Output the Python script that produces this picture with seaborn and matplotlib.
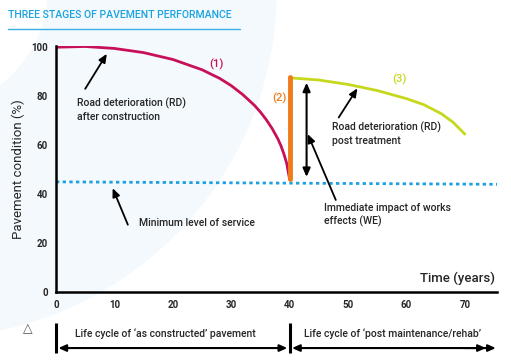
import numpy as np
import pandas as pd
import matplotlib
matplotlib.use("Agg")
import matplotlib.pyplot as plt
import seaborn as sns
from matplotlib.patches import Wedge
from matplotlib.transforms import Affine2D

# ---- data ----
rd1_years = [0, 5, 10, 15, 20, 25, 28, 30, 32, 34, 35, 36, 37, 38, 38.5, 39, 39.5, 40]
rd1_cond = [100, 100.3, 99.5, 97.8, 95, 90.8, 87.3, 84.3, 80.6, 76.2, 73.5, 70.4, 66.8, 62.5, 59.8, 56.5, 52.5, 46]
rd3_years = [40, 45, 50, 55, 60, 63, 66, 68, 70]
rd3_cond = [87.5, 86.6, 84.8, 82.3, 79, 76.5, 72.8, 69.3, 64.5]
we_years = [40, 40]
we_cond = [46, 88]
min_years = [0, 75.5]
min_cond = [45, 44]
x_ticks = [0, 10, 20, 30, 40, 50, 60, 70]
y_ticks = [0, 20, 40, 60, 80, 100]

C_RED = "#c8105a"
C_ORANGE = "#f07a1c"
C_GREEN = "#c5d81c"
C_BLUE = "#1ea1e0"

sns.set_style("white")
plt.rcParams["font.family"] = ["Roboto", "DejaVu Sans"]
plt.rcParams["font.weight"] = "medium"

fig = plt.figure(figsize=(5.11, 3.64), dpi=100)
fig.patch.set_facecolor("white")

# pale background crescent (pixel coords, y down)
bg = Wedge((-72, -11), 349, 0, 360, width=229, facecolor="#f4f9fd", edgecolor="none",
           transform=Affine2D().scale(1, -1).translate(0, 364), zorder=0)
fig.add_artist(bg)

ax = fig.add_axes([56 / 511, 1 - 292 / 364, (497 - 56) / 511, (292 - 46) / 364])
ax.patch.set_alpha(0)

df1 = pd.DataFrame({"t": rd1_years, "c": rd1_cond})
df3 = pd.DataFrame({"t": rd3_years, "c": rd3_cond})
dfw = pd.DataFrame({"t": we_years, "c": we_cond})
dfm = pd.DataFrame({"t": min_years, "c": min_cond})

kw = dict(estimator=None, sort=False)
sns.lineplot(data=dfm, x="t", y="c", ax=ax, color=C_BLUE, lw=2, linestyle=(0, (1.2, 1.2)), **kw)
sns.lineplot(data=df1, x="t", y="c", ax=ax, color=C_RED, lw=2, **kw)
sns.lineplot(data=df3, x="t", y="c", ax=ax, color=C_GREEN, lw=2, **kw)
sns.lineplot(data=dfw, x="t", y="c", ax=ax, color=C_ORANGE, lw=3.5, **kw)

ax.set_xlim(0, 75.5)
ax.set_ylim(0, 100.5)
ax.set_xticks(x_ticks)
ax.set_yticks(y_ticks)
ax.tick_params(axis="both", labelsize=7, width=2.2, length=4, direction="out", color="black", pad=2)
for lab in ax.get_xticklabels() + ax.get_yticklabels():
    lab.set_fontweight("bold")
for s in ["top", "right"]:
    ax.spines[s].set_visible(False)
for s in ["left", "bottom"]:
    ax.spines[s].set_linewidth(1.8)
    ax.spines[s].set_color("black")
ax.set_xlabel("")
ax.set_ylabel("Pavement condition (%)", fontsize=9.5, labelpad=4)
ax.text(75.2, 3, "Time (years)", ha="right", va="bottom", fontsize=9.5, fontweight="medium")

# labels
ax.text(27.5, 93, "(1)", color=C_RED, fontsize=8, ha="center", va="center")
ax.text(38.2, 79, "(2)", color=C_ORANGE, fontsize=8, ha="center", va="center")
ax.text(58.8, 86.7, "(3)", color=C_GREEN, fontsize=8, ha="center", va="center")

ap = dict(arrowstyle="-|>,head_length=0.5,head_width=0.22", color="black", lw=1.3, shrinkA=0, shrinkB=0)
ax.annotate("", xy=(8.7, 97.3), xytext=(5, 83), arrowprops=ap)
ax.text(3.6, 79.5, "Road deterioration (RD)\nafter construction", fontsize=7.5, va="top", ha="left",
        linespacing=1.35)
ax.annotate("", xy=(51.6, 83.2), xytext=(48.4, 71.3), arrowprops=ap)
ax.text(47.2, 69.5, "Road deterioration (RD)\npost treatment", fontsize=7.5, va="top", ha="left",
        linespacing=1.35)
ax.annotate("", xy=(43.1, 64.5), xytext=(47.9, 37.6), arrowprops=ap)
ax.text(45.8, 36.5, "Immediate impact of works\neffects (WE)", fontsize=7.5, va="top", ha="left",
        linespacing=1.35)
ax.annotate("", xy=(9.7, 42.4), xytext=(12.3, 27.5), arrowprops=ap)
ax.text(14.2, 28.2, "Minimum level of service", fontsize=7.5, va="center", ha="left")

ap2 = dict(arrowstyle="<|-|>,head_length=0.5,head_width=0.22", color="black", lw=1.5, shrinkA=0, shrinkB=0)
ax.annotate("", xy=(42.9, 85.5), xytext=(42.9, 47), arrowprops=ap2)

# life cycle brackets below axis
for xv in [0, 40]:
    ax.plot([xv, xv], [-12.7, -25], color="black", lw=2.2, clip_on=False, solid_capstyle="butt")
ap3 = dict(arrowstyle="<|-|>,head_length=0.45,head_width=0.2", color="black", lw=1.5, shrinkA=0, shrinkB=0)
ax.annotate("", xy=(0.4, -22.9), xytext=(39.6, -22.9), arrowprops=ap3, annotation_clip=False)
ax.annotate("", xy=(40.4, -22.9), xytext=(75.3, -22.9), arrowprops=ap3, annotation_clip=False)
ap4 = dict(arrowstyle="-|>,head_length=0.45,head_width=0.2", color="black", lw=1.5, shrinkA=0, shrinkB=0)
ax.annotate("", xy=(73.6, -22.9), xytext=(70, -22.9), arrowprops=ap4, annotation_clip=False)
ax.text(18.7, -17.1, "Life cycle of \u2018as constructed\u2019 pavement", fontsize=7.5,
        ha="center", va="center", clip_on=False)
ax.text(57.6, -17.1, "Life cycle of \u2018post maintenance/rehab\u2019", fontsize=7.5,
        ha="center", va="center", clip_on=False)
ax.text(-4.8, -15, "\u25b3", fontsize=9, color="#555555", ha="center", va="center",
        family=["DejaVu Sans"], fontweight="normal", clip_on=False)

# title
fig.text(8 / 511, 1 - 15 / 364, "THREE STAGES OF PAVEMENT PERFORMANCE", color="#1aa3e0",
         fontsize=7.6, fontweight="medium", ha="left", va="center")
fig.add_artist(plt.Line2D([8 / 511, 240 / 511], [1 - 29 / 364, 1 - 29 / 364], color="#39aee6", lw=1))

fig.savefig("out.png", dpi=100)
